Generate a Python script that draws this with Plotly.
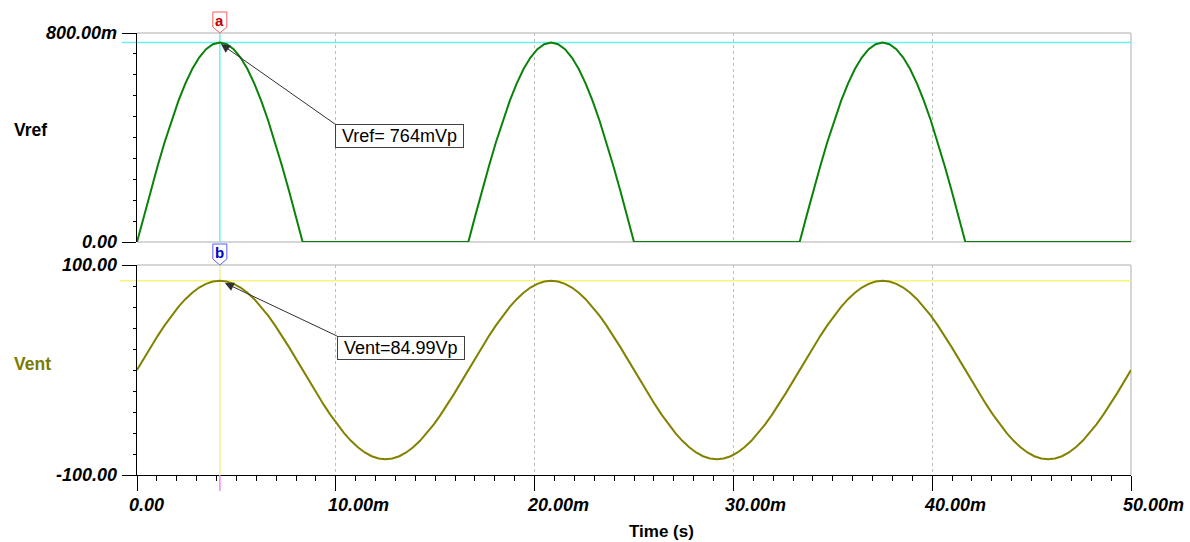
import plotly.graph_objects as go

# ---------------- data ----------------
time_ms = [0.0, 0.347, 0.694, 1.042, 1.389, 1.736, 2.083, 2.431, 2.778, 3.125, 3.472, 3.819,
           4.167, 4.514, 4.861, 5.208, 5.556, 5.903, 6.25, 6.597, 6.944, 7.292, 7.639, 7.986,
           8.333, 8.681, 9.028, 9.375, 9.722, 10.069, 10.417, 10.764, 11.111, 11.458, 11.806, 12.153,
           12.5, 12.847, 13.194, 13.542, 13.889, 14.236, 14.583, 14.931, 15.278, 15.625, 15.972, 16.319,
           16.667, 17.014, 17.361, 17.708, 18.056, 18.403, 18.75, 19.097, 19.444, 19.792, 20.139, 20.486,
           20.833, 21.181, 21.528, 21.875, 22.222, 22.569, 22.917, 23.264, 23.611, 23.958, 24.306, 24.653,
           25.0, 25.347, 25.694, 26.042, 26.389, 26.736, 27.083, 27.431, 27.778, 28.125, 28.472, 28.819,
           29.167, 29.514, 29.861, 30.208, 30.556, 30.903, 31.25, 31.597, 31.944, 32.292, 32.639, 32.986,
           33.333, 33.681, 34.028, 34.375, 34.722, 35.069, 35.417, 35.764, 36.111, 36.458, 36.806, 37.153,
           37.5, 37.847, 38.194, 38.542, 38.889, 39.236, 39.583, 39.931, 40.278, 40.625, 40.972, 41.319,
           41.667, 42.014, 42.361, 42.708, 43.056, 43.403, 43.75, 44.097, 44.444, 44.792, 45.139, 45.486,
           45.833, 46.181, 46.528, 46.875, 47.222, 47.569, 47.917, 48.264, 48.611, 48.958, 49.306, 49.653,
           50.0]

vref_v = [0, 0.100, 0.198, 0.292, 0.382, 0.465, 0.540, 0.606, 0.662, 0.706, 0.738, 0.757,
          0.764, 0.757, 0.738, 0.706, 0.662, 0.606, 0.540, 0.465, 0.382, 0.292, 0.198, 0.100,
          0, 0, 0, 0, 0, 0, 0, 0, 0, 0, 0, 0,
          0, 0, 0, 0, 0, 0, 0, 0, 0, 0, 0, 0,
          0, 0.100, 0.198, 0.292, 0.382, 0.465, 0.540, 0.606, 0.662, 0.706, 0.738, 0.757,
          0.764, 0.757, 0.738, 0.706, 0.662, 0.606, 0.540, 0.465, 0.382, 0.292, 0.198, 0.100,
          0, 0, 0, 0, 0, 0, 0, 0, 0, 0, 0, 0,
          0, 0, 0, 0, 0, 0, 0, 0, 0, 0, 0, 0,
          0, 0.100, 0.198, 0.292, 0.382, 0.465, 0.540, 0.606, 0.662, 0.706, 0.738, 0.757,
          0.764, 0.757, 0.738, 0.706, 0.662, 0.606, 0.540, 0.465, 0.382, 0.292, 0.198, 0.100,
          0, 0, 0, 0, 0, 0, 0, 0, 0, 0, 0, 0,
          0, 0, 0, 0, 0, 0, 0, 0, 0, 0, 0, 0,
          0]

vent_v = [0, 11.09, 22.0, 32.53, 42.5, 51.75, 60.1, 67.44, 73.61, 78.53, 82.1, 84.27,
          84.99, 84.27, 82.1, 78.53, 73.61, 67.44, 60.1, 51.75, 42.5, 32.53, 22.0, 11.09,
          0, -11.09, -22.0, -32.53, -42.5, -51.75, -60.1, -67.44, -73.61, -78.53, -82.1, -84.27,
          -84.99, -84.27, -82.1, -78.53, -73.61, -67.44, -60.1, -51.75, -42.5, -32.53, -22.0, -11.09,
          0, 11.09, 22.0, 32.53, 42.5, 51.75, 60.1, 67.44, 73.61, 78.53, 82.1, 84.27,
          84.99, 84.27, 82.1, 78.53, 73.61, 67.44, 60.1, 51.75, 42.5, 32.53, 22.0, 11.09,
          0, -11.09, -22.0, -32.53, -42.5, -51.75, -60.1, -67.44, -73.61, -78.53, -82.1, -84.27,
          -84.99, -84.27, -82.1, -78.53, -73.61, -67.44, -60.1, -51.75, -42.5, -32.53, -22.0, -11.09,
          0, 11.09, 22.0, 32.53, 42.5, 51.75, 60.1, 67.44, 73.61, 78.53, 82.1, 84.27,
          84.99, 84.27, 82.1, 78.53, 73.61, 67.44, 60.1, 51.75, 42.5, 32.53, 22.0, 11.09,
          0, -11.09, -22.0, -32.53, -42.5, -51.75, -60.1, -67.44, -73.61, -78.53, -82.1, -84.27,
          -84.99, -84.27, -82.1, -78.53, -73.61, -67.44, -60.1, -51.75, -42.5, -32.53, -22.0, -11.09,
          0]

x_tick_vals = [0, 10, 20, 30, 40, 50]
x_tick_text = ["0.00", "10.00m", "20.00m", "30.00m", "40.00m", "50.00m"]
vref_tick_vals = [0, 0.8]
vref_tick_text = ["0.00", "800.00m"]
vent_tick_vals = [-100, 100]
vent_tick_text = ["-100.00", "100.00"]

cursor_t = 4.167
vref_peak = 0.764
vent_peak = 84.99
vref_note = "Vref= 764mVp"
vent_note = "Vent=84.99Vp"

# ---------------- layout geometry ----------------
W, H = 1190, 542
PL, PR = 137, 1131
TOP_T, TOP_B = 33, 242
BOT_T, BOT_B = 265, 475
FONT = "Arial, Liberation Sans, sans-serif"
GRID = "#bdbdbd"
FRAME = "#c8c8c8"

fig = go.Figure()
fig.add_trace(go.Scatter(x=time_ms, y=vref_v, mode="lines", xaxis="x", yaxis="y",
                         line=dict(color="#0a820a", width=2), hoverinfo="skip"))
fig.add_trace(go.Scatter(x=time_ms, y=vent_v, mode="lines", xaxis="x2", yaxis="y2",
                         line=dict(color="#828200", width=2), hoverinfo="skip"))

xdom = [PL / W, PR / W]
ydom_top = [1 - TOP_B / H, 1 - TOP_T / H]
ydom_bot = [1 - BOT_B / H, 1 - BOT_T / H]

common_x = dict(domain=xdom, range=[0, 50], zeroline=False, showgrid=True,
                gridcolor=GRID, griddash="3px,3px", gridwidth=1, tickvals=x_tick_vals,
                showticklabels=False, fixedrange=True)

fig.update_layout(
    width=W, height=H, autosize=False,
    margin=dict(l=0, r=0, t=0, b=0),
    paper_bgcolor="white", plot_bgcolor="white",
    showlegend=False, hovermode=False,
    font=dict(family=FONT, color="black"),
    xaxis=dict(**common_x, anchor="y", showline=False, ticks=""),
    yaxis=dict(domain=ydom_top, range=[0, 0.8], anchor="x", showline=True, linecolor="black",
               linewidth=1, ticks="outside", ticklen=14, tickwidth=1, tickcolor="black",
               tickvals=vref_tick_vals, showticklabels=False, showgrid=False, zeroline=False,
               fixedrange=True,
               minor=dict(ticks="outside", ticklen=3, tickwidth=1, tickcolor="black",
                          dtick=0.08, tick0=0, showgrid=False)),
    xaxis2=dict(**common_x, anchor="y2", showline=True, linecolor="black", linewidth=1,
                ticks="outside", ticklen=15, tickwidth=1, tickcolor="black",
                minor=dict(ticks="outside", ticklen=5, tickwidth=1, tickcolor="black",
                           dtick=1, tick0=0, showgrid=False)),
    yaxis2=dict(domain=ydom_bot, range=[-100, 100], anchor="x2", showline=True, linecolor="black",
                linewidth=1, ticks="outside", ticklen=14, tickwidth=1, tickcolor="black",
                tickvals=vent_tick_vals, showticklabels=False, showgrid=False, zeroline=False,
                fixedrange=True,
                minor=dict(ticks="outside", ticklen=3, tickwidth=1, tickcolor="black",
                           dtick=20, tick0=-100, showgrid=False)),
)

shapes = []
# gray frames
for xr, yr in (("x domain", "y domain"), ("x2 domain", "y2 domain")):
    shapes.append(dict(type="line", xref=xr, yref=yr, x0=0, x1=1, y0=1, y1=1,
                       line=dict(color=FRAME, width=1.5), layer="below"))
    shapes.append(dict(type="line", xref=xr, yref=yr, x0=1, x1=1, y0=0, y1=1,
                       line=dict(color=FRAME, width=1.5), layer="below"))
shapes.append(dict(type="line", xref="x domain", yref="y domain", x0=0, x1=1, y0=0, y1=0,
                   line=dict(color=FRAME, width=1.5), layer="below"))

# cursors
ext = 15 / (PR - PL)
shapes.append(dict(type="line", xref="x", yref="y domain", x0=cursor_t, x1=cursor_t, y0=0, y1=1,
                   line=dict(color="#66f2f2", width=1.5), layer="below"))
shapes.append(dict(type="line", xref="x domain", yref="y", x0=-ext, x1=1, y0=vref_peak, y1=vref_peak,
                   line=dict(color="#66f2f2", width=1.5), layer="below"))
shapes.append(dict(type="line", xref="x2", yref="y2 domain", x0=cursor_t, x1=cursor_t, y0=0, y1=1,
                   line=dict(color="#f6f67a", width=1.5), layer="below"))
shapes.append(dict(type="line", xref="x2 domain", yref="y2", x0=-ext - 0.002, x1=1,
                   y0=vent_peak, y1=vent_peak,
                   line=dict(color="#f6f67a", width=1.5), layer="below"))
shapes.append(dict(type="line", xref="x2", yref="y2 domain", x0=cursor_t, x1=cursor_t,
                   y0=0, y1=-16 / (BOT_B - BOT_T), line=dict(color="#ff80ff", width=1.5)))

# cursor flags (pentagons)
flag_path = "M -7,21 L 7,21 L 7,6 L 0,0 L -7,6 Z"
shapes.append(dict(type="path", xref="x", yref="y domain", xsizemode="pixel", ysizemode="pixel",
                   xanchor=cursor_t, yanchor=1, path=flag_path, fillcolor="white",
                   line=dict(color="#ff5a5a", width=1)))
shapes.append(dict(type="path", xref="x2", yref="y2 domain", xsizemode="pixel", ysizemode="pixel",
                   xanchor=cursor_t, yanchor=1, path=flag_path, fillcolor="white",
                   line=dict(color="#5a5aff", width=1)))
fig.update_layout(shapes=shapes)

ann = []
ann.append(dict(x=cursor_t, xref="x", y=1, yref="y domain", yshift=12, text="a", showarrow=False,
                xanchor="center", yanchor="middle",
                font=dict(size=15, color="#c00000", family=FONT, weight="bold")))
ann.append(dict(x=cursor_t, xref="x2", y=1, yref="y2 domain", yshift=12, text="b", showarrow=False,
                xanchor="center", yanchor="middle",
                font=dict(size=15, color="#0000c0", family=FONT, weight="bold")))

tick_font = dict(size=18, color="black", family=FONT, weight="bold", style="italic")
for v, t in zip(vref_tick_vals, vref_tick_text):
    ann.append(dict(x=0, xref="x domain", y=v, yref="y", xanchor="right", yanchor="middle",
                    xshift=-18, text=t, showarrow=False, font=tick_font))
for v, t in zip(vent_tick_vals, vent_tick_text):
    ann.append(dict(x=0, xref="x2 domain", y=v, yref="y2", xanchor="right", yanchor="middle",
                    xshift=-18, text=t, showarrow=False, font=tick_font))
for v, t in zip(x_tick_vals, x_tick_text):
    ann.append(dict(x=v, xref="x2", y=0, yref="y2 domain", xanchor="left", yanchor="middle",
                    xshift=-10, yshift=-30, text=t, showarrow=False, font=tick_font))

# axis titles
ann.append(dict(x=12 / W, xref="paper", y=(TOP_B - 130) / (TOP_B - TOP_T), yref="y domain",
                xanchor="left", yanchor="middle", text="Vref", showarrow=False,
                font=dict(size=17.5, color="black", family=FONT, weight="bold")))
ann.append(dict(x=12 / W, xref="paper", y=(BOT_B - 364) / (BOT_B - BOT_T), yref="y2 domain",
                xanchor="left", yanchor="middle", text="Vent", showarrow=False,
                font=dict(size=17.5, color="#7a7a00", family=FONT, weight="bold")))
ann.append(dict(x=661 / W, xref="paper", y=0, yref="y2 domain", yshift=-56, xanchor="center",
                yanchor="middle", text="Time (s)", showarrow=False,
                font=dict(size=17, color="black", family=FONT, weight="bold")))

# measurement notes with arrows
note_font = dict(size=18, color="black", family=FONT)
ann.append(dict(x=4.22, xref="x", y=0.758, yref="y", ax=114, ay=80,
                text="\u00a0" + vref_note + "\u00a0", xanchor="left", yanchor="top",
                showarrow=True, arrowhead=2, arrowsize=1.8, arrowwidth=1, arrowcolor="#303030",
                bordercolor="#404040", borderwidth=1, borderpad=1, bgcolor="white", font=note_font))
ann.append(dict(x=4.42, xref="x2", y=82.9, yref="y2", ax=112, ay=53,
                text="\u00a0" + vent_note + "\u00a0", xanchor="left", yanchor="top",
                showarrow=True, arrowhead=2, arrowsize=1.8, arrowwidth=1, arrowcolor="#303030",
                bordercolor="#404040", borderwidth=1, borderpad=1, bgcolor="white", font=note_font))
fig.update_layout(annotations=ann)

fig.write_html("out.html", config={"displayModeBar": False, "staticPlot": True},
               post_script="document.body.style.margin='0px';")
